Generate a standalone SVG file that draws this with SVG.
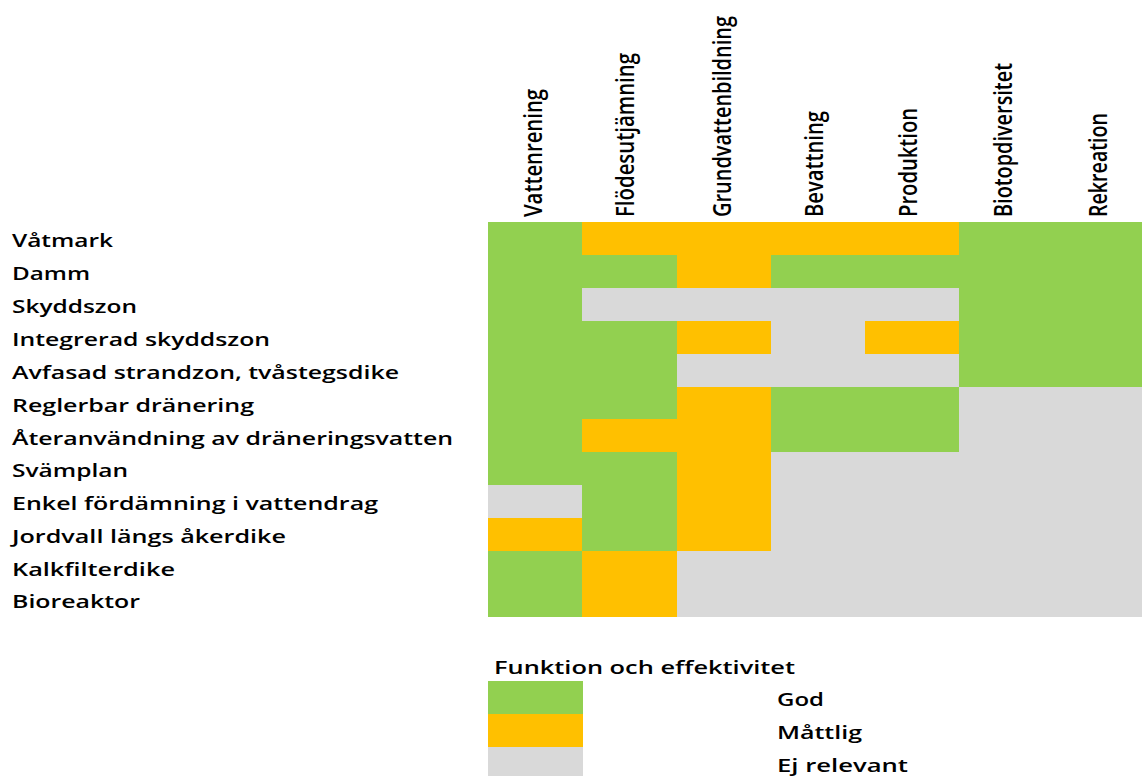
<svg xmlns="http://www.w3.org/2000/svg" width="1142" height="776" viewBox="0 0 1142 776">
<style>
.g{fill:#92D050}.o{fill:#FFC000}.x{fill:#D9D9D9}
rect{shape-rendering:crispEdges}
.lbl{font-family:"Open Sans","Liberation Sans",sans-serif;font-weight:600;font-size:17.5px;fill:#000}
.hdr{font-family:"Open Sans","Liberation Sans",sans-serif;font-weight:600;font-size:26px;fill:#000}
</style>
<rect x="0" y="0" width="1142" height="776" fill="#fff"/>
<g id="headers">
<text class="hdr" transform="translate(541.5,217) rotate(-90)" textLength="128" lengthAdjust="spacingAndGlyphs">Vattenrening</text>
<text class="hdr" transform="translate(634,217) rotate(-90)" textLength="164" lengthAdjust="spacingAndGlyphs">Flödesutjämning</text>
<text class="hdr" transform="translate(731,217) rotate(-90)" textLength="201" lengthAdjust="spacingAndGlyphs">Grundvattenbildning</text>
<text class="hdr" transform="translate(823,217) rotate(-90)" textLength="106" lengthAdjust="spacingAndGlyphs">Bevattning</text>
<text class="hdr" transform="translate(917,217) rotate(-90)" textLength="109" lengthAdjust="spacingAndGlyphs">Produktion</text>
<text class="hdr" transform="translate(1012,217) rotate(-90)" textLength="154" lengthAdjust="spacingAndGlyphs">Biotopdiversitet</text>
<text class="hdr" transform="translate(1107,217) rotate(-90)" textLength="104" lengthAdjust="spacingAndGlyphs">Rekreation</text>
</g>
<g id="row-vatmark">
<text class="lbl" x="12" y="247" textLength="101" lengthAdjust="spacingAndGlyphs">Våtmark</text>
<rect class="g" x="488" y="222" width="94" height="33"/><rect class="o" x="582" y="222" width="377" height="33"/><rect class="g" x="959" y="222" width="183" height="33"/>
</g>
<g id="row-damm">
<text class="lbl" x="12" y="280" textLength="78" lengthAdjust="spacingAndGlyphs">Damm</text>
<rect class="g" x="488" y="255" width="189" height="33"/><rect class="o" x="677" y="255" width="94" height="33"/><rect class="g" x="771" y="255" width="371" height="33"/>
</g>
<g id="row-skyddszon">
<text class="lbl" x="12" y="313" textLength="125" lengthAdjust="spacingAndGlyphs">Skyddszon</text>
<rect class="g" x="488" y="288" width="94" height="33"/><rect class="x" x="582" y="288" width="377" height="33"/><rect class="g" x="959" y="288" width="183" height="33"/>
</g>
<g id="row-integrerad">
<text class="lbl" x="12" y="346" textLength="258" lengthAdjust="spacingAndGlyphs">Integrerad skyddszon</text>
<rect class="g" x="488" y="321" width="189" height="33"/><rect class="o" x="677" y="321" width="94" height="33"/><rect class="x" x="771" y="321" width="94" height="33"/><rect class="o" x="865" y="321" width="94" height="33"/><rect class="g" x="959" y="321" width="183" height="33"/>
</g>
<g id="row-avfasad">
<text class="lbl" x="12" y="379" textLength="387" lengthAdjust="spacingAndGlyphs">Avfasad strandzon, tvåstegsdike</text>
<rect class="g" x="488" y="354" width="189" height="33"/><rect class="x" x="677" y="354" width="282" height="33"/><rect class="g" x="959" y="354" width="183" height="33"/>
</g>
<g id="row-reglerbar">
<text class="lbl" x="12" y="412" textLength="242" lengthAdjust="spacingAndGlyphs">Reglerbar dränering</text>
<rect class="g" x="488" y="387" width="189" height="32"/><rect class="o" x="677" y="387" width="94" height="32"/><rect class="g" x="771" y="387" width="188" height="32"/><rect class="x" x="959" y="387" width="183" height="32"/>
</g>
<g id="row-ateranvandning">
<text class="lbl" x="12" y="445" textLength="441" lengthAdjust="spacingAndGlyphs">Återanvändning av dräneringsvatten</text>
<rect class="g" x="488" y="419" width="94" height="33"/><rect class="o" x="582" y="419" width="189" height="33"/><rect class="g" x="771" y="419" width="188" height="33"/><rect class="x" x="959" y="419" width="183" height="33"/>
</g>
<g id="row-svamplan">
<text class="lbl" x="12" y="477" textLength="116" lengthAdjust="spacingAndGlyphs">Svämplan</text>
<rect class="g" x="488" y="452" width="189" height="33"/><rect class="o" x="677" y="452" width="94" height="33"/><rect class="x" x="771" y="452" width="371" height="33"/>
</g>
<g id="row-enkel">
<text class="lbl" x="12" y="510" textLength="366" lengthAdjust="spacingAndGlyphs">Enkel fördämning i vattendrag</text>
<rect class="x" x="488" y="485" width="94" height="33"/><rect class="g" x="582" y="485" width="95" height="33"/><rect class="o" x="677" y="485" width="94" height="33"/><rect class="x" x="771" y="485" width="371" height="33"/>
</g>
<g id="row-jordvall">
<text class="lbl" x="12" y="543" textLength="274" lengthAdjust="spacingAndGlyphs">Jordvall längs åkerdike</text>
<rect class="o" x="488" y="518" width="94" height="33"/><rect class="g" x="582" y="518" width="95" height="33"/><rect class="o" x="677" y="518" width="94" height="33"/><rect class="x" x="771" y="518" width="371" height="33"/>
</g>
<g id="row-kalkfilterdike">
<text class="lbl" x="12" y="576" textLength="163" lengthAdjust="spacingAndGlyphs">Kalkfilterdike</text>
<rect class="g" x="488" y="551" width="94" height="33"/><rect class="o" x="582" y="551" width="95" height="33"/><rect class="x" x="677" y="551" width="465" height="33"/>
</g>
<g id="row-bioreaktor">
<text class="lbl" x="12" y="608" textLength="128" lengthAdjust="spacingAndGlyphs">Bioreaktor</text>
<rect class="g" x="488" y="584" width="94" height="33"/><rect class="o" x="582" y="584" width="95" height="33"/><rect class="x" x="677" y="584" width="465" height="33"/>
</g>
<g id="legend">
<text class="lbl" x="494" y="674" textLength="301" lengthAdjust="spacingAndGlyphs">Funktion och effektivitet</text>
<rect class="g" x="488" y="681" width="95" height="33"/>
<rect class="o" x="488" y="714" width="95" height="33"/>
<rect class="x" x="488" y="747" width="95" height="33"/>
<text class="lbl" x="777" y="706" textLength="47" lengthAdjust="spacingAndGlyphs">God</text>
<text class="lbl" x="777" y="739" textLength="85" lengthAdjust="spacingAndGlyphs">Måttlig</text>
<text class="lbl" x="777" y="772" textLength="131" lengthAdjust="spacingAndGlyphs">Ej relevant</text>
</g>
</svg>
